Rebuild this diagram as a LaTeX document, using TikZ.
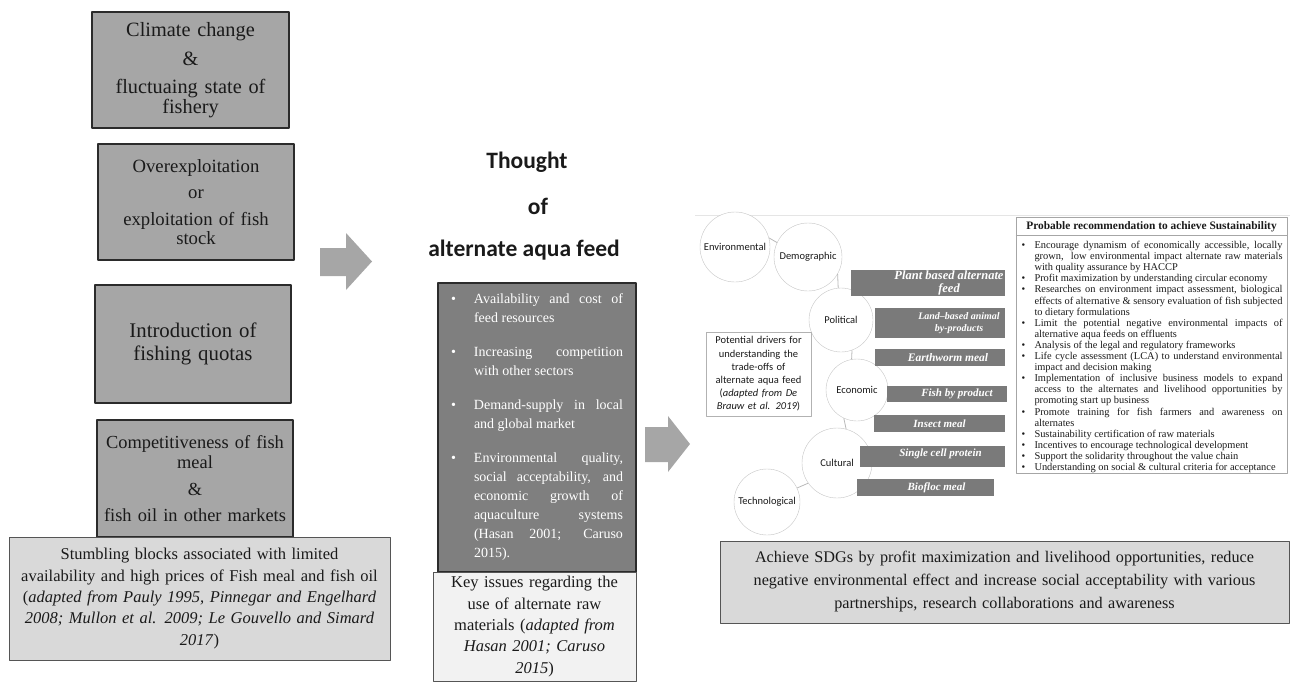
\documentclass[tikz,border=0pt]{standalone}
\usepackage{fontspec}
\setmainfont{Liberation Serif}
\newfontfamily\calfont{Carlito}
\usetikzlibrary{positioning}
\definecolor{ink}{HTML}{1A1A1A}
\definecolor{boxgray}{HTML}{A6A6A6}
\definecolor{capgray}{HTML}{D9D9D9}
\definecolor{keygray}{HTML}{7F7F7F}
\definecolor{palegray}{HTML}{F2F2F2}
\definecolor{feedgray}{HTML}{7A7A7A}
\definecolor{edgegray}{HTML}{2B2B2B}
\hyphenpenalty=10000
\exhyphenpenalty=10000
\newcommand{\fs}[2]{\fontsize{#1}{#2}\selectfont}
\newcommand{\keyitem}[1]{\hangindent=23pt\hangafter=1\noindent\makebox[23pt][l]{\textbullet}#1\par}
\newcommand{\recitem}[1]{\hangindent=13pt\hangafter=1\noindent\makebox[13pt][l]{\textbullet}#1\par}

\begin{document}
\begin{tikzpicture}[x=1pt, y=-1pt, line join=round, text=ink,
    cause/.style={draw=edgegray, line width=1.3pt, fill=boxgray, align=center, inner sep=2pt},
    caption/.style={draw=edgegray!80, line width=0.9pt, fill=capgray, align=center, inner sep=1.5pt},
    driver/.style={circle, draw=gray!45, fill=white, inner sep=0pt, font=\calfont\fs{10.5}{12}},
    link/.style={draw=gray!55, line width=0.8pt},
    feed/.style={rectangle, fill=feedgray, inner sep=0pt},
    feedlab/.style={text=white, align=center, inner sep=0pt, font=\bfseries\itshape\fs{11}{12}},
    arrowfill/.style={fill=boxgray}]
\useasboundingbox (0,0) rectangle (1290,682);

% stumbling blocks
\node[cause, minimum width=197pt, minimum height=116pt, text width=192pt, font=\fs{20.3}{20.5}] (climate) at (190.5,70)
    {Climate change\\[9pt] \&\\[7pt] fluctuaing state of\\ fishery};
\node[cause, minimum width=196pt, minimum height=116pt, text width=192pt, font=\fs{18.7}{19.5}] (overex) at (196,202)
    {Overexploitation\\[6.5pt] or\\[7.5pt] exploitation of fish\\ stock};
\node[cause, minimum width=196pt, minimum height=118pt, text width=192pt, font=\fs{20.8}{23}] (quota) at (193,344)
    {Introduction of\\ fishing quotas};
\node[cause, minimum width=196pt, minimum height=117pt, text width=192pt, font=\fs{18.4}{20}] (compete) at (195,478.5)
    {Competitiveness of fish\\ meal\\[7pt] \&\\[6pt] fish oil in other markets};
\node[caption, minimum width=381pt, minimum height=123pt, text width=378pt, font=\fs{16.5}{21.3}] (stumble) at (199.5,598.5)
    {Stumbling blocks associated with limited\\ availability and high prices of Fish meal and fish oil\\
     (\textit{adapted from Pauly 1995, Pinnegar and Engelhard}\\ \textit{2008; Mullon et al. 2009; Le Gouvello and Simard}\\ \textit{2017})};

\fill[arrowfill] (320,248) -- (346,248) -- (346,233) -- (372,261.5) -- (346,290) -- (346,276) -- (320,276) -- cycle;

% key issues
\node[font=\calfont\bfseries\fs{23.5}{24}] (thought) at (527,162) {Thought};
\node[font=\calfont\bfseries\fs{23.5}{24}] (of) at (538,206) {of};
\node[font=\calfont\bfseries\fs{23.5}{24}] (alt) at (524,250) {alternate aqua feed};
\node[cause, fill=keygray, minimum width=198pt, minimum height=289pt, text width=172pt, align=justify,
      text=white, font=\fs{14}{19}] (key) at (537,427.5)
    {\setlength{\parskip}{15pt}%
     \keyitem{Availability and cost of\linebreak feed resources}
     \keyitem{Increasing competition\linebreak with other sectors}
     \keyitem{Demand-supply in local\linebreak and global market}
     \keyitem{Environmental quality,\linebreak social acceptability, and\linebreak economic growth of\linebreak aquaculture systems\linebreak (Hasan 2001; Caruso\linebreak 2015).}};
\node[caption, fill=palegray, minimum width=203pt, minimum height=109pt, text width=198pt, font=\fs{16.5}{21.3}] (issues) at (534.5,626.5)
    {Key issues regarding the\\ use of alternate raw\\ materials (\textit{adapted from}\\ \textit{Hasan 2001; Caruso}\\ \textit{2015})};

\fill[arrowfill] (645,427) -- (668,427) -- (668,416) -- (690,444) -- (668,472) -- (668,462) -- (645,462) -- cycle;

% drivers and feeds
\draw[gray!20, line width=0.8pt] (695,215) -- (1290,215);
\foreach \nm/\pos/\dia/\txt in {env/{(735,247)}/70/Environmental, dem/{(808,257)}/68/Demographic,
    pol/{(841,320)}/64/Political, eco/{(857,390)}/62/Economic, cul/{(837,463)}/70/Cultural,
    tech/{(767,502)}/66/Technological}
  \node[driver, minimum size=\dia pt] (\nm) at \pos {\txt};
\foreach \a/\b in {env.15/dem.155, dem.-30/pol.95, pol.-70/eco.100, eco.-115/cul.75, cul.-145/tech.25}
  \draw[link] (\a) -- (\b);

\node[feed, minimum width=154pt, minimum height=26pt,
      label={[feedlab, font=\bfseries\itshape\fs{12.5}{13}, xshift=21pt]center:Plant based alternate\\ feed}] (plant) at (928,283) {};
\node[feed, minimum width=130pt, minimum height=30pt,
      label={[feedlab, font=\bfseries\itshape\fs{10}{12}, xshift=19pt]center:Land--based animal\\ by-products}] (land) at (940,323) {};
\node[feed, minimum width=130pt, minimum height=17pt,
      label={[feedlab, font=\bfseries\itshape\fs{11.5}{12}, xshift=8pt]center:Earthworm meal}] (earth) at (940,357.5) {};
\node[feed, minimum width=120pt, minimum height=16pt,
      label={[feedlab, xshift=10pt]center:Fish by product}] (fishby) at (947,394) {};
\node[feed, minimum width=131pt, minimum height=17pt,
      label={[feedlab]center:Insect meal}] (insect) at (939.5,423.5) {};
\node[feed, minimum width=145pt, minimum height=21pt,
      label={[feedlab, xshift=8pt, yshift=3pt]center:Single cell protein}] (single) at (932.5,456.5) {};
\node[feed, minimum width=137pt, minimum height=17pt,
      label={[feedlab, xshift=11pt]center:Biofloc meal}] (biofloc) at (925.5,487.5) {};

\node[draw=gray!60, line width=0.8pt, fill=white, minimum width=105pt, minimum height=84pt, text width=100pt,
      align=center, inner sep=1pt, font=\calfont\fs{10.5}{13.2}] (drivers) at (758.5,374)
    {Potential drivers for\\ understanding the\\ trade-offs of\\ alternate aqua feed\\ (\textit{adapted from De}\\ \textit{Brauw et al. 2019})};

% recommendations
\node[draw=gray!70, line width=0.8pt, minimum width=271pt, minimum height=256pt] (rec) at (1151.5,345) {};
\node[font=\bfseries\fs{11.4}{12}, inner sep=0pt] (rtitle) at (1151.5,227) {Probable recommendation to achieve Sustainability};
\coordinate (rsep) at (1151.5,235);
\draw[gray!70, line width=0.8pt] (rec.west |- rsep) -- (rec.east |- rsep);
\node[anchor=north, text width=261pt, align=justify, inner sep=0pt, font=\fs{10.4}{11.1}] (rlist) at (1152,241)
    {\recitem{Encourage dynamism of economically accessible, locally\linebreak grown,\ \ low environmental impact alternate raw materials\linebreak with quality assurance by HACCP}
     \recitem{Profit maximization by understanding circular economy}
     \recitem{Researches on environment impact assessment, biological\linebreak effects of alternative \& sensory evaluation of fish subjected\linebreak to dietary formulations}
     \recitem{Limit the potential negative environmental impacts of\linebreak alternative aqua feeds on effluents}
     \recitem{Analysis of the legal and regulatory frameworks}
     \recitem{Life cycle assessment (LCA) to understand environmental\linebreak impact and decision making}
     \recitem{Implementation of inclusive business models to expand\linebreak access to the alternates and livelihood opportunities by\linebreak promoting start up business}
     \recitem{Promote training for fish farmers and awareness on\linebreak alternates}
     \recitem{Sustainability certification of raw materials}
     \recitem{Incentives to encourage technological development}
     \recitem{Support the solidarity throughout the value chain}
     \recitem{Understanding on social \& cultural criteria for acceptance}};

\node[caption, minimum width=569pt, minimum height=82pt, text width=560pt, font=\fs{16.2}{23}] (sdg) at (1004.5,582)
    {Achieve SDGs by profit maximization and livelihood opportunities, reduce\\ negative environmental effect and increase social acceptability with various\\ partnerships, research collaborations and awareness};
\end{tikzpicture}
\end{document}
